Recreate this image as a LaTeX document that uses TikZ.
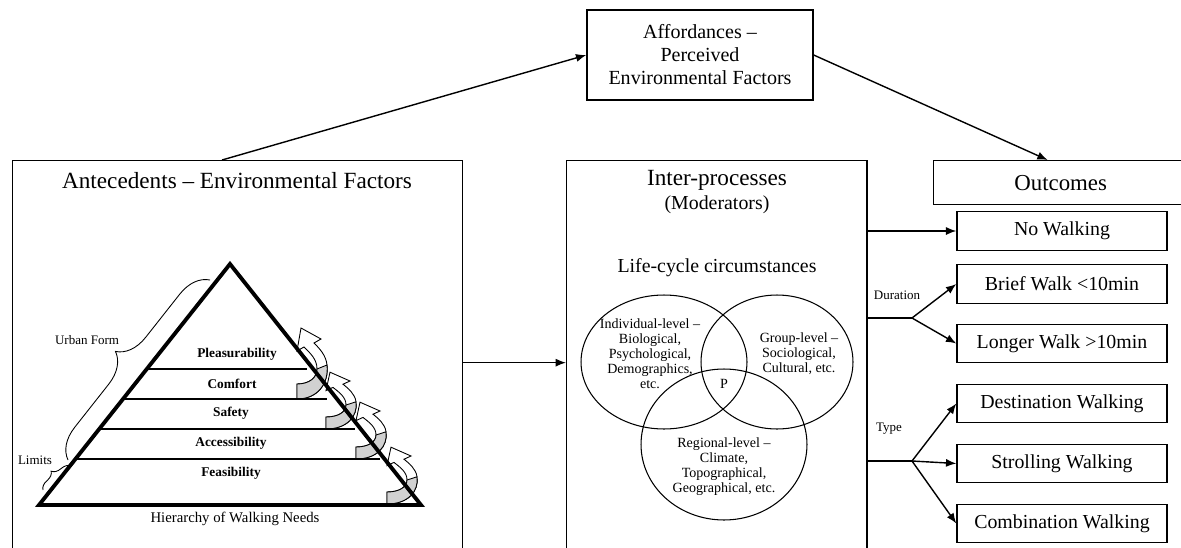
\documentclass[tikz,border=0pt]{standalone}
\usepackage{fontspec}
\setmainfont{Liberation Serif}
\usetikzlibrary{arrows.meta, positioning, shapes.geometric, decorations.pathreplacing}
\tikzstyle{box} = [draw, line width=0.8pt, rectangle, inner sep=0pt]
\tikzstyle{panel} = [box, anchor=north west, minimum height=8.08cm]
\tikzstyle{title} = [font=\fontsize{13.2}{15}\selectfont]
\tikzstyle{subtitle} = [font=\fontsize{11.3}{13}\selectfont]
\tikzstyle{outcome} = [box, minimum width=4.2cm, minimum height=0.77cm, font=\fontsize{11.3}{13}\selectfont]
\tikzstyle{venn} = [draw, ellipse, line width=0.6pt, inner sep=0pt]
\tikzstyle{note} = [font=\fontsize{8}{8.5}\selectfont, align=center, inner sep=0pt]
\tikzstyle{stage} = [font=\bfseries\fontsize{7.6}{9}\selectfont, inner sep=0pt]
\tikzstyle{tag} = [font=\fontsize{7.4}{9}\selectfont, inner sep=0pt]
\tikzstyle{tier} = [line width=0.6pt]
\tikzstyle{brace} = [decorate, line width=0.5pt]
\tikzstyle{link} = [-{Latex[length=5.9pt, width=4.6pt]}, line width=0.8pt]

\newcommand{\walkarrow}[3]{%
    \begin{scope}[shift={(#1,#2)}, yscale=#3, line width=0.5pt]
        \draw [fill=white] (0,0) .. controls (21,0) and (32,-16) .. (30,-34)
            .. controls (29,-44) and (22,-51) .. (17,-56) -- (24,-60) -- (4,-71)
            -- (0,-48) -- (7,-52) .. controls (13,-46) and (20,-40) .. (20,-30)
            .. controls (20,-21) and (12,-15) .. (0,-15) -- cycle;
        \draw [fill=black!18] (0,0) .. controls (21,0) and (32,-16) .. (30,-34)
            -- (20,-30) .. controls (20,-21) and (12,-15) .. (0,-15) -- cycle;
    \end{scope}%
}

\begin{document}
\begin{tikzpicture}[x=0.02cm, y=-0.02cm]
    \useasboundingbox (0,0) rectangle (1181,548);

    % Top box.
    \node (afford) [box, minimum width=4.52cm, minimum height=1.8cm, align=center,
        font=\fontsize{11.4}{13.1}\selectfont] at (700,55)
        {Affordances –\\Perceived\\Environmental Factors};

    % Main panels.
    \node (ante) [panel, minimum width=9cm] at (11.7,160) {};
    \node (inter) [panel, minimum width=6.01cm] at (566,160) {};
    \node (antetitle) [title] at (237,181) {Antecedents – Environmental Factors};
    \node (intertitle) [title] at (717,180) {Inter-processes};
    \node (moderators) [subtitle] at (717,205) {(Moderators)};
    \node (outcomes) [box, anchor=north west, minimum width=5.08cm, minimum height=0.88cm,
        font=\fontsize{13}{15}\selectfont] at (933,160) {Outcomes};

    % Outcome boxes.
    \foreach \name/\y/\text in {nowalk/231/No Walking, brief/284/Brief Walk <10min,
        longer/343.5/Longer Walk >10min, dest/403.5/Destination Walking,
        stroll/463.5/Strolling Walking, combo/523.5/Combination Walking} {
        \node (\name) [outcome] at (1062,\y) {\text};
    }

    % Hierarchy of walking needs.
    \coordinate (apex) at (230,264);
    \coordinate (bl) at (39,505);
    \coordinate (br) at (421,505);

    \walkarrow{297}{399}{1}
    \walkarrow{326}{429}{0.8}
    \walkarrow{356}{459}{0.8}
    \walkarrow{387}{504}{0.8}

    \foreach \y/\xl/\xr in {369/147/307, 399/123/327, 429/99/355, 459/75/380} {
        \draw [tier] (\xl,\y) -- (\xr,\y);
    }

    \draw [line width=2.2pt, line join=miter] (apex) -- (br) -- (bl) -- cycle;

    \node (pleasure) [stage] at (237,354) {Pleasurability};
    \node (comfort) [stage] at (232,383.5) {Comfort};
    \node (safety) [stage] at (231,413.5) {Safety};
    \node (access) [stage] at (231,443.5) {Accessibility};
    \node (feasible) [stage] at (231,473.5) {Feasibility};
    \node (hierarchy) [font=\fontsize{8.4}{10}\selectfont] at (235,519) {Hierarchy of Walking Needs};

    \draw [brace, decoration={brace, amplitude=0.6cm}] (68,460) -- (210,280);
    \draw [brace, decoration={brace, amplitude=0.18cm}] (43,490) -- (71,466);
    \node (urban) [tag] at (87,340) {Urban Form};
    \node (limits) [tag] at (35,460) {Limits};

    % Life-cycle circumstances.
    \node (lifecycle) [subtitle] at (717,268) {Life-cycle circumstances};
    \node (indiv) [venn, minimum width=3.32cm, minimum height=2.68cm] at (664,362) {};
    \node (group) [venn, minimum width=3.04cm, minimum height=2.68cm] at (777,362) {};
    \node (region) [venn, minimum width=3.32cm, minimum height=3.02cm] at (724,444.5) {};
    \node (indivtext) [note] at (650,354) {Individual-level –\\Biological,\\Psychological,\\Demographics,\\etc.};
    \node (grouptext) [note] at (799,354) {Group-level –\\Sociological,\\Cultural, etc.};
    \node (p) [note] at (724,384) {P};
    \node (regiontext) [note] at (724,466.5) {Regional-level –\\Climate,\\Topographical,\\Geographical, etc.};

    % Connections.
    \coordinate (antetop) at (222,160);
    \draw [link] (antetop) -- (afford.west);
    \draw [link] (afford.east) -- ([xshift=-0.26cm]outcomes.north);
    \draw [link] (ante.east) -- (inter.west);
    \draw [link] (nowalk.west -| inter.east) -- (nowalk.west);

    \coordinate (dur) at (912,318);
    \draw [line width=0.8pt] (dur -| inter.east) -- (dur);
    \draw [link] (dur) -- (brief.west);
    \draw [link] (dur) -- (longer.west);

    \coordinate (kind) at (912,461);
    \draw [line width=0.8pt] (kind -| inter.east) -- (kind);
    \foreach \name in {dest, stroll, combo} {
        \draw [link] (kind) -- (\name.west);
    }

    \node (duration) [tag] at (897,295) {Duration};
    \node (type) [tag] at (889,429) {Type};
\end{tikzpicture}
\end{document}
